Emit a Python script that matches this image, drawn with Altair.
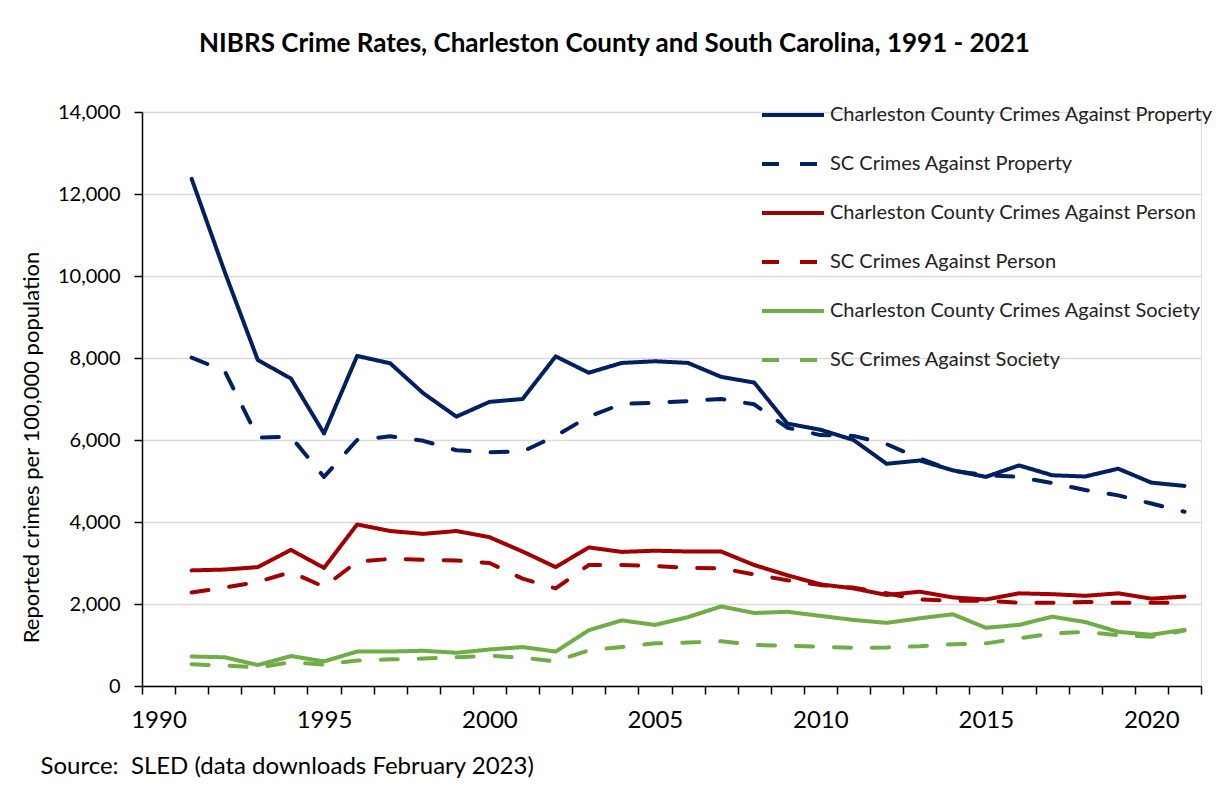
import altair as alt
import pandas as pd

years = list(range(1991, 2022))

cc_property = [12370, 10100, 7950, 7500, 6160, 8050, 7870, 7140, 6570, 6930,
               7000, 8040, 7640, 7880, 7920, 7880, 7540, 7400, 6400, 6250,
               6000, 5420, 5500, 5260, 5100, 5380, 5140, 5110, 5300, 4960, 4880]
sc_property = [8010, 7680, 6060, 6080, 5100, 6000, 6090, 5980, 5750, 5700,
               5720, 6100, 6570, 6880, 6910, 6950, 7000, 6870, 6300, 6120,
               6100, 5900, 5550, 5250, 5140, 5100, 4950, 4780, 4650, 4450, 4250]
cc_person = [2820, 2840, 2900, 3320, 2880, 3940, 3780, 3710, 3780, 3630,
             3280, 2900, 3380, 3270, 3300, 3280, 3280, 2950, 2700, 2480,
             2380, 2220, 2300, 2160, 2110, 2260, 2240, 2200, 2260, 2130, 2180]
sc_person = [2280, 2400, 2540, 2780, 2420, 3030, 3100, 3080, 3060, 3000,
             2620, 2380, 2950, 2950, 2930, 2880, 2870, 2720, 2580, 2460,
             2400, 2260, 2110, 2080, 2080, 2030, 2030, 2050, 2030, 2030, 2030]
cc_society = [720, 700, 510, 730, 600, 840, 840, 860, 810, 890,
              950, 840, 1360, 1600, 1490, 1680, 1940, 1780, 1810, 1710,
              1610, 1540, 1650, 1750, 1420, 1490, 1690, 1560, 1320, 1250, 1370]
sc_society = [530, 500, 450, 580, 520, 620, 650, 670, 700, 740,
              690, 600, 870, 950, 1040, 1060, 1090, 1000, 980, 960,
              930, 940, 970, 1020, 1040, 1160, 1280, 1320, 1240, 1200, 1350]

series_names = [
    "Charleston County Crimes Against Property",
    "SC Crimes Against Property",
    "Charleston County Crimes Against Person",
    "SC Crimes Against Person",
    "Charleston County Crimes Against Society",
    "SC Crimes Against Society",
]
series_values = [cc_property, sc_property, cc_person, sc_person, cc_society, sc_society]
series_colors = ["#002060", "#002060", "#A00000", "#A00000", "#70AD47", "#70AD47"]
series_dashes = [[1, 0], [17, 21], [1, 0], [17, 21], [1, 0], [17, 21]]

rows = []
for name, vals in zip(series_names, series_values):
    for y, v in zip(years, vals):
        rows.append({"year": y, "value": v, "series": name})
df = pd.DataFrame(rows)

FONT = "Lato"
tick_vals = [y + 0.5 for y in range(1989, 2022)]

x_enc = alt.X(
    "year:Q",
    scale=alt.Scale(domain=[1989.5, 2021.5], nice=False, zero=False),
    axis=alt.Axis(
        values=tick_vals,
        labelExpr="(datum.value + 0.5) % 5 == 0 ? format(datum.value + 0.5, 'd') : ''",
        labelOffset=16.5,
        labelOverlap=False,
        labelFlush=False,
        labelPadding=14,
        tickSize=8,
        tickColor="black",
        domainColor="black",
        domainWidth=1.5,
        tickWidth=1.5,
        grid=False,
        labelFont=FONT,
        labelFontSize=24,
        labelColor="black",
        title="Source:\u00a0 SLED (data downloads February 2023)",
        titleFont=FONT,
        titleFontSize=24,
        titleFontWeight="normal",
        titleColor="black",
        titleAnchor="start",
        titleAlign="left",
        titleX=-102,
        titleY=80,
        titleBaseline="middle",
    ),
)

y_enc = alt.Y(
    "value:Q",
    scale=alt.Scale(domain=[0, 14000], nice=False),
    axis=alt.Axis(
        values=[0, 2000, 4000, 6000, 8000, 10000, 12000, 14000],
        format=",.0f",
        tickSize=8,
        tickColor="black",
        domainColor="black",
        domainWidth=1.5,
        tickWidth=1.5,
        gridColor="#D9D9D9",
        gridWidth=1.5,
        labelFont=FONT,
        labelFontSize=20,
        labelColor="black",
        labelPadding=14,
        title="Reported crimes per 100,000 population",
        titleFont=FONT,
        titleFontSize=22,
        titleFontWeight="normal",
        titleColor="black",
        titlePadding=14,
        titleY=335,
    ),
)

legend = alt.Legend(
    title=None,
    orient="none",
    legendX=618,
    legendY=-8,
    symbolType="stroke",
    symbolSize=3844,
    symbolStrokeWidth=4,
    clipHeight=22,
    rowPadding=27,
    labelFont=FONT,
    labelFontSize=20,
    labelColor="#222222",
    labelOffset=4,
    labelLimit=600,
)

chart = alt.Chart(df).mark_line(strokeWidth=4, strokeCap="round", strokeJoin="round").encode(
    x=x_enc,
    y=y_enc,
    color=alt.Color("series:N", scale=alt.Scale(domain=series_names, range=series_colors), legend=legend),
    strokeDash=alt.StrokeDash("series:N", scale=alt.Scale(domain=series_names, range=series_dashes), legend=legend),
    order=alt.Order("series:N"),
).properties(
    width=1059,
    height=574,
    title=alt.TitleParams(
        "NIBRS Crime Rates, Charleston County and South Carolina, 1991 - 2021",
        font=FONT,
        fontSize=26,
        fontWeight="bold",
        color="black",
        anchor="middle",
        frame="group",
        dx=-57,
        offset=45,
    ),
    autosize=alt.AutoSizeParams(type="none"),
    padding={"left": 134, "top": 104, "right": 16, "bottom": 92},
).configure_view(stroke=None).configure(background="white")

chart.save("out.html", embed_options={"renderer": "svg", "actions": False})
